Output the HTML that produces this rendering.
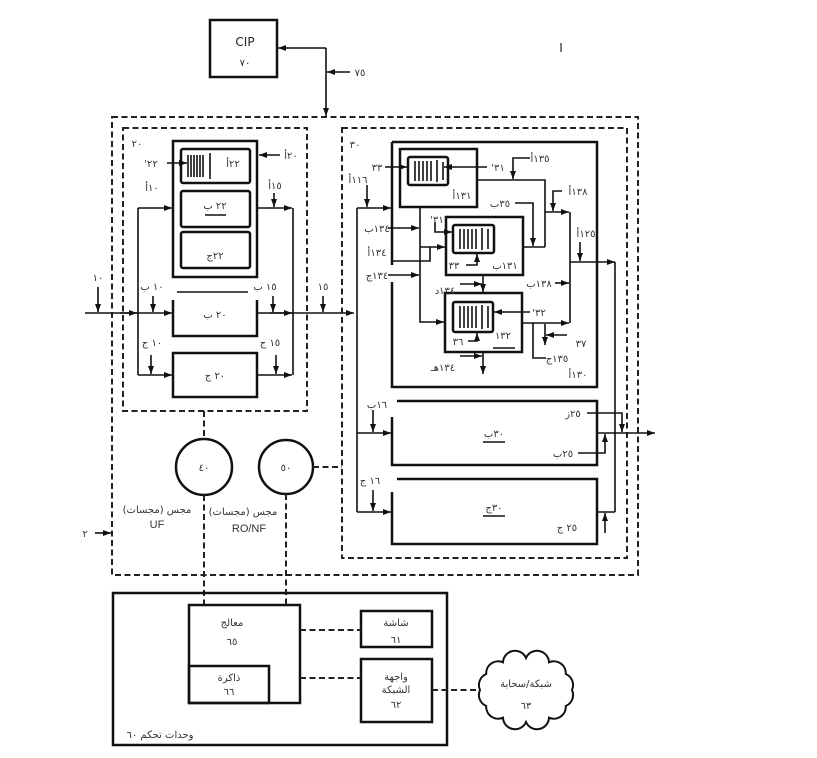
<!DOCTYPE html>
<html><head><meta charset="utf-8">
<style>
html,body{margin:0;padding:0;background:#fff;}
svg{display:block;}
text{font-family:"DejaVu Sans","Liberation Sans",sans-serif;fill:#333;font-size:10px;text-anchor:middle;}
.t{fill:none;stroke:#111;stroke-width:2.5;}
.l{fill:none;stroke:#111;stroke-width:1.6;}
.d{fill:none;stroke:#222;stroke-width:2;stroke-dasharray:6,3.5;}
.b{stroke:#111;stroke-width:1.6;}
</style></head>
<body>
<svg width="817" height="758" viewBox="0 0 817 758" xmlns="http://www.w3.org/2000/svg">
<defs>
<marker id="a" markerWidth="8" markerHeight="6" refX="8" refY="3" orient="auto" markerUnits="userSpaceOnUse"><path d="M0,0 L8,3 L0,6 z" fill="#111"/></marker>
</defs>
<rect width="817" height="758" fill="#fff"/>

<!-- CIP -->
<rect x="210" y="20" width="67" height="57" class="t"/>
<text x="245" y="46" style="font-size:12px;fill:#222">CIP</text>
<text x="245" y="66">٧٠</text>
<path d="M326,48 L326,116" class="l" marker-end="url(#a)"/>
<path d="M326,48 L278,48" class="l" marker-end="url(#a)"/>
<path d="M350,72 L327,72" class="l" marker-end="url(#a)"/>
<text x="360" y="76">٧٥</text>
<text x="561" y="52" style="font-size:12px;fill:#222">I</text>

<!-- dashed enclosures -->
<rect x="112" y="117" width="526" height="458" class="d"/>
<rect x="123" y="128" width="184" height="283" class="d"/>
<rect x="342" y="128" width="285" height="430" class="d"/>

<!-- UF module -->
<rect x="173" y="141" width="84" height="136" class="t"/>
<rect x="181" y="149" width="69" height="34" rx="2" class="t"/>
<rect x="181" y="191" width="69" height="36" rx="2" class="t"/>
<rect x="181" y="232" width="69" height="36" rx="2" class="t"/>
<path d="M188,155 L188,177 M191,155 L191,177 M194,155 L194,177 M197,155 L197,177 M200,155 L200,177 M203,155 L203,177 M210,153 L210,179" class="b"/>
<path d="M167,163 L187,163" class="l" marker-end="url(#a)"/>
<path d="M280,155 L259,155" class="l" marker-end="url(#a)"/>
<path d="M205,215 L226,215" class="b"/>
<text x="137" y="147">٢٠</text>
<text x="151" y="167">'٢٢</text>
<text x="233" y="167">٢٢أ</text>
<text x="291" y="159">٢٠أ</text>
<text x="152" y="191">١٠أ</text>
<text x="275" y="189">١٥أ</text>
<text x="215" y="209">٢٢ ب</text>
<text x="215" y="259">٢٢ج</text>

<path d="M138,208 L138,375 M293,208 L293,375" class="l"/>
<path d="M138,208 L172,208" class="l" marker-end="url(#a)"/>
<path d="M257,208 L292,208" class="l" marker-end="url(#a)"/>
<path d="M274,193 L274,207" class="l" marker-end="url(#a)"/>

<path d="M85,313 L172,313" class="l" marker-end="url(#a)"/>
<path d="M120,313 L137,313" class="l" marker-end="url(#a)"/>
<path d="M98,287 L98,312" class="l" marker-end="url(#a)"/>
<path d="M153,296 L153,312" class="l" marker-end="url(#a)"/>
<path d="M173,300 L173,336 L257,336 L257,300" class="t"/>
<path d="M177,292 L248,292" class="b"/>
<path d="M257,313 L354,313" class="l" marker-end="url(#a)"/>
<path d="M270,313 L292,313" class="l" marker-end="url(#a)"/>
<path d="M273,296 L273,312" class="l" marker-end="url(#a)"/>
<path d="M323,296 L323,312" class="l" marker-end="url(#a)"/>
<text x="98" y="281">١٠</text>
<text x="152" y="290">١٠ ب</text>
<text x="265" y="290">١٥ ب</text>
<text x="323" y="290">١٥</text>
<text x="215" y="318">٢٠ ب</text>

<rect x="173" y="353" width="84" height="44" class="t"/>
<path d="M138,375 L172,375" class="l" marker-end="url(#a)"/>
<path d="M257,375 L292,375" class="l" marker-end="url(#a)"/>
<path d="M151,355 L151,374" class="l" marker-end="url(#a)"/>
<path d="M276,355 L276,374" class="l" marker-end="url(#a)"/>
<text x="152" y="346">١٠ ج</text>
<text x="270" y="346">١٥ ج</text>
<text x="215" y="379">٢٠ ج</text>

<!-- sensors -->
<path d="M204,411 L204,440" class="d"/>
<circle cx="204" cy="467" r="28" class="t"/>
<circle cx="286" cy="467" r="27" class="t"/>
<path d="M313,467 L342,467" class="d"/>
<path d="M204,495 L204,605 M286,494 L286,605" class="d"/>
<text x="204" y="471">٤٠</text>
<text x="286" y="471">٥٠</text>
<text x="157" y="513">مجس (مجسات)</text>
<text x="157" y="528" style="font-family:'Liberation Sans',sans-serif;font-size:11px">UF</text>
<text x="243" y="515">مجس (مجسات)</text>
<text x="249" y="532" style="font-family:'Liberation Sans',sans-serif;font-size:11px">RO/NF</text>
<text x="85" y="537">٢</text>
<path d="M95,533 L111,533" class="l" marker-end="url(#a)"/>

<!-- control -->
<rect x="113" y="593" width="334" height="152" class="t"/>
<rect x="189" y="605" width="111" height="98" class="t"/>
<rect x="189" y="666" width="80" height="37" class="t"/>
<rect x="361" y="611" width="71" height="36" class="t"/>
<rect x="361" y="659" width="71" height="63" class="t"/>
<path d="M300,630 L361,630 M300,678 L361,678 M432,690 L479,690" class="d"/>
<text x="232" y="626">معالج</text>
<text x="232" y="645">٦٥</text>
<text x="229" y="681">ذاكرة</text>
<text x="229" y="695">٦٦</text>
<text x="396" y="626">شاشة</text>
<text x="396" y="643">٦١</text>
<text x="396" y="680">واجهة</text>
<text x="396" y="693">الشبكة</text>
<text x="396" y="708">٦٢</text>
<text x="160" y="738">وحدات تحكم ٦٠</text>
<path d="M572,690 A12,12 0 0 1 565.8,706 A12,12 0 0 1 549,717.7 A12,12 0 0 1 526,722 A12,12 0 0 1 503,717.7 A12,12 0 0 1 486.2,706 A12,12 0 0 1 480,690 A12,12 0 0 1 486.2,674 A12,12 0 0 1 503,662.3 A12,12 0 0 1 526,658 A12,12 0 0 1 549,662.3 A12,12 0 0 1 565.8,674 A12,12 0 0 1 572,690 z" class="t" style="stroke-width:2"/>
<text x="526" y="687">شبكة/سحابة</text>
<text x="526" y="709">٦٣</text>

<!-- RO module frame -->
<path d="M392,142 L597,142 L597,387 L392,387 L392,282 M392,142 L392,265" class="t"/>

<!-- box 31 -->
<rect x="400" y="149" width="77" height="58" class="t"/>
<rect x="408" y="157" width="40" height="28" rx="2" class="t"/>
<path d="M415,161 L415,181 M419,161 L419,181 M423,161 L423,181 M427,161 L427,181 M431,161 L431,181 M437,160 L437,182 M443,162 L443,180" class="b"/>
<path d="M385,167 L407,167" class="l" marker-end="url(#a)"/>
<path d="M487,167 L444,167" class="l" marker-end="url(#a)"/>
<path d="M477,180 L545,180 L545,247 M523,247 L545,247" class="l"/>
<path d="M530,158 L513,158 L513,179" class="l" marker-end="url(#a)"/>
<path d="M515,203 L533,203 L533,246" class="l" marker-end="url(#a)"/>
<path d="M545,212 L569,212" class="l" marker-end="url(#a)"/>
<path d="M562,191 L553,191 L553,211" class="l" marker-end="url(#a)"/>
<path d="M570,212 L570,323" class="l"/>
<path d="M570,262 L615,262" class="l" marker-end="url(#a)"/>
<path d="M580,242 L580,261" class="l" marker-end="url(#a)"/>
<path d="M615,262 L615,512" class="l"/>
<text x="355" y="148">٣٠</text>
<text x="377" y="171">٣٣</text>
<text x="358" y="183">١١٦أ</text>
<text x="498" y="171">'٣١</text>
<text x="462" y="199">١٣١أ</text>
<text x="540" y="162">١٣٥أ</text>
<text x="500" y="207">٣٥ب</text>
<text x="578" y="195">١٣٨أ</text>
<text x="586" y="237">١٢٥أ</text>

<!-- left feed lines -->
<path d="M357,208 L391,208" class="l" marker-end="url(#a)"/>
<path d="M367,185 L367,207" class="l" marker-end="url(#a)"/>
<path d="M357,208 L357,512" class="l"/>
<path d="M420,207 L420,322 L444,322" class="l" marker-end="url(#a)"/>
<path d="M388,228 L419,228" class="l" marker-end="url(#a)"/>
<path d="M392,261 L430,261 L430,247" class="l"/>
<path d="M420,247 L445,247" class="l" marker-end="url(#a)"/>
<path d="M388,275 L419,275" class="l" marker-end="url(#a)"/>
<text x="377" y="232">١٣٤ب</text>
<text x="377" y="256">١٣٤أ</text>
<text x="377" y="279">١٣٤ج</text>

<!-- box 31' -->
<rect x="446" y="217" width="77" height="58" class="t"/>
<rect x="453" y="225" width="41" height="28" rx="2" class="t"/>
<path d="M460,229 L460,249 M464,229 L464,249 M468,229 L468,249 M472,229 L472,249 M476,229 L476,249 M482,228 L482,250 M488,229 L488,249" class="b"/>
<path d="M435,222 L435,232 L452,232" class="l" marker-end="url(#a)"/>
<path d="M466,265 L477,265 L477,254" class="l" marker-end="url(#a)"/>
<text x="437" y="223">'٣١</text>
<text x="454" y="269">٣٣</text>
<text x="505" y="269">١٣١ب</text>

<!-- box 31'' -->
<rect x="445" y="293" width="77" height="59" class="t"/>
<rect x="453" y="302" width="40" height="30" rx="2" class="t"/>
<path d="M460,306 L460,328 M464,306 L464,328 M468,306 L468,328 M472,306 L472,328 M476,306 L476,328 M482,305 L482,329 M488,306 L488,328" class="b"/>
<path d="M530,312 L494,312" class="l" marker-end="url(#a)"/>
<path d="M468,341 L477,341 L477,333" class="l" marker-end="url(#a)"/>
<path d="M493,348 L515,348" class="b"/>
<path d="M483,275 L483,292" class="l" marker-end="url(#a)"/>
<path d="M460,284 L482,284" class="l" marker-end="url(#a)"/>
<path d="M483,352 L483,374" class="l" marker-end="url(#a)"/>
<path d="M460,356 L482,356" class="l" marker-end="url(#a)"/>
<path d="M522,323 L569,323" class="l" marker-end="url(#a)"/>
<path d="M533,323 L533,358 L546,358" class="l"/>
<path d="M545,324 L545,345" class="l" marker-end="url(#a)"/>
<path d="M567,335 L546,335" class="l" marker-end="url(#a)"/>
<path d="M555,283 L569,283" class="l" marker-end="url(#a)"/>
<text x="445" y="294">١٣٤د</text>
<text x="539" y="287">١٣٨ب</text>
<text x="539" y="316">'٣٢</text>
<text x="458" y="345">٣٦</text>
<text x="503" y="339">١٣٢</text>
<text x="581" y="347">٣٧</text>
<text x="557" y="362">١٣٥ج</text>
<text x="443" y="371">١٣٤هـ</text>
<text x="578" y="378">١٣٠أ</text>

<!-- 30b -->
<path d="M397,401 L597,401 L597,465 L392,465 L392,417" class="t"/>
<path d="M483,442 L505,442" class="b"/>
<path d="M357,433 L391,433" class="l" marker-end="url(#a)"/>
<path d="M373,410 L373,432" class="l" marker-end="url(#a)"/>
<path d="M597,433 L655,433" class="l" marker-end="url(#a)"/>
<path d="M587,413 L622,413 L622,432" class="l" marker-end="url(#a)"/>
<path d="M578,453 L605,453 L605,434" class="l" marker-end="url(#a)"/>
<text x="377" y="408">١٦ب</text>
<text x="494" y="437">٣٠ب</text>
<text x="573" y="417">٢٥ز</text>
<text x="563" y="457">٢٥ب</text>

<!-- 30c -->
<path d="M397,479 L597,479 L597,544 L392,544 L392,492" class="t"/>
<path d="M483,516 L505,516" class="b"/>
<path d="M357,512 L391,512" class="l" marker-end="url(#a)"/>
<path d="M373,490 L373,511" class="l" marker-end="url(#a)"/>
<path d="M597,512 L615,512" class="l"/>
<path d="M605,533 L605,513" class="l" marker-end="url(#a)"/>
<text x="370" y="484">١٦ ج</text>
<text x="494" y="511">٣٠ج</text>
<text x="567" y="531">٢٥ ج</text>
</svg>
</body></html>
